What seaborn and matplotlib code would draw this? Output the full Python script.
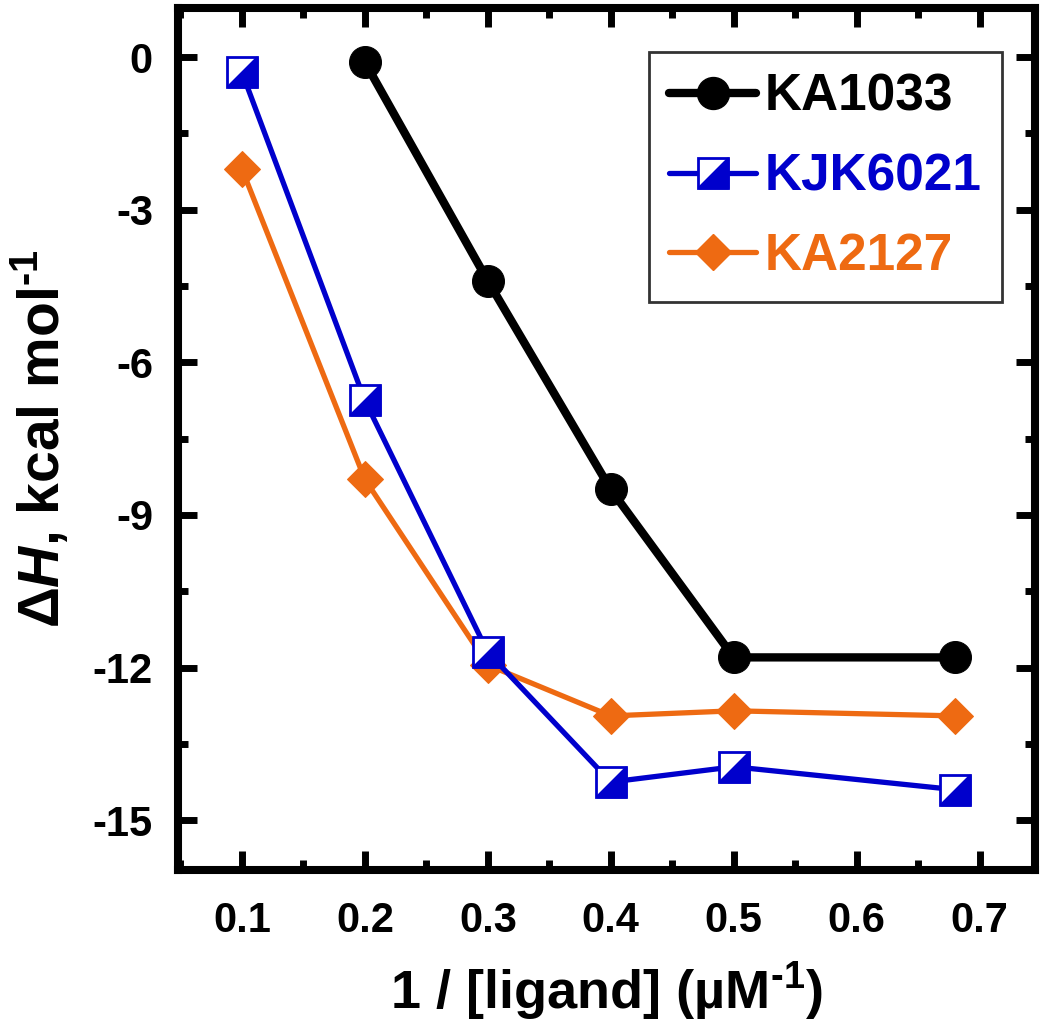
import numpy as np
import pandas as pd
import matplotlib
matplotlib.use("Agg")
import matplotlib.pyplot as plt
from matplotlib.lines import Line2D
from matplotlib.ticker import MultipleLocator
import seaborn as sns

# data
x_ka1033 = [0.2, 0.3, 0.4, 0.5, 0.68]
y_ka1033 = [-0.1, -4.4, -8.5, -11.8, -11.8]

x_kjk6021 = [0.1, 0.2, 0.3, 0.4, 0.5, 0.68]
y_kjk6021 = [-0.3, -6.75, -11.7, -14.25, -13.95, -14.4]

x_ka2127 = [0.1, 0.2, 0.3, 0.4, 0.5, 0.68]
y_ka2127 = [-2.2, -8.3, -11.95, -12.95, -12.85, -12.95]

labels = ["KA1033", "KJK6021", "KA2127"]
colors = ["black", "#0000CC", "#EE6A12"]

sns.set_style("white")
plt.rcParams["font.family"] = ["Liberation Sans", "DejaVu Sans"]
plt.rcParams["font.weight"] = "bold"
plt.rcParams["text.color"] = "black"
plt.rcParams["axes.labelcolor"] = "black"
plt.rcParams["axes.unicode_minus"] = False
plt.rcParams["mathtext.fontset"] = "custom"
plt.rcParams["mathtext.rm"] = "Liberation Sans:bold"
plt.rcParams["mathtext.bf"] = "Liberation Sans:bold"
plt.rcParams["mathtext.it"] = "Liberation Sans:bold:italic"

fig = plt.figure(figsize=(10.5, 10.26), dpi=100)
ax = fig.add_axes([0.1695, 0.152, 0.8162, 0.840])

df1 = pd.DataFrame({"x": x_ka1033, "y": y_ka1033})
df2 = pd.DataFrame({"x": x_kjk6021, "y": y_kjk6021})
df3 = pd.DataFrame({"x": x_ka2127, "y": y_ka2127})

# lower-right triangle, to half fill the square marker
tri = [(-1, -1), (1, -1), (1, 1), (-1, -1)]

sns.lineplot(data=df3, x="x", y="y", ax=ax, color=colors[2], lw=3.8,
             marker="D", ms=18, mec=colors[2], mfc=colors[2], legend=False)
sns.lineplot(data=df2, x="x", y="y", ax=ax, color=colors[1], lw=3.8,
             marker="s", ms=21, mec=colors[1], mfc="white", mew=2, legend=False)
sns.lineplot(data=df2, x="x", y="y", ax=ax, color=colors[1], lw=0,
             marker=tri, ms=21, mec=colors[1], mfc=colors[1], mew=2, legend=False)
sns.lineplot(data=df1, x="x", y="y", ax=ax, color=colors[0], lw=6,
             marker="o", ms=23, mec=colors[0], mfc=colors[0], legend=False)

ax.set_xlim(0.048, 0.745)
ax.set_ylim(-15.98, 0.96)
ax.xaxis.set_minor_locator(MultipleLocator(0.05))
ax.yaxis.set_minor_locator(MultipleLocator(1.5))
ax.set_xticks([0.1, 0.2, 0.3, 0.4, 0.5, 0.6, 0.7])
ax.set_xticklabels(["0.1", "0.2", "0.3", "0.4", "0.5", "0.6", "0.7"])
ax.set_yticks([0, -3, -6, -9, -12, -15])
ax.set_yticklabels(["0", "-3", "-6", "-9", "-12", "-15"])

for sp in ax.spines.values():
    sp.set_linewidth(5.8)
    sp.set_color("black")
ax.tick_params(which="both", direction="in", bottom=True, left=True,
               top=True, right=True, color="black", labelcolor="black")
ax.tick_params(which="major", length=14, width=5, labelsize=30, pad=18)
ax.tick_params(which="minor", length=7, width=5)
ax.tick_params(axis="x", which="major", pad=22)

ax.set_xlabel(r"1 / [ligand] (µM$^{\text{-1}}$)", fontsize=39,
              fontweight="bold", labelpad=14)
ax.set_ylabel(r"$\Delta\mathit{H}$, kcal mol$^{\text{-1}}$", fontsize=41,
              fontweight="bold", labelpad=16)

h1 = Line2D([], [], color=colors[0], lw=6, marker="o", ms=23)
h2a = Line2D([], [], color=colors[1], lw=3.8, marker="s", ms=21, mfc="white", mec=colors[1], mew=2)
h2b = Line2D([], [], color=colors[1], lw=0, marker=tri, ms=21, mfc=colors[1], mec=colors[1], mew=2)
h3 = Line2D([], [], color=colors[2], lw=3.8, marker="D", ms=18)
leg = ax.legend([h1, (h2a, h2b), h3], labels, loc="upper right",
                bbox_to_anchor=(0.961, 0.949), fontsize=37, frameon=True,
                fancybox=False, edgecolor="black", handlelength=1.7,
                handletextpad=0.15, borderpad=0.4, labelspacing=0.6,
                borderaxespad=0)
leg.get_frame().set_linewidth(2)
for txt, c in zip(leg.get_texts(), colors):
    txt.set_color(c)
    txt.set_fontweight("bold")

fig.savefig("out.png", dpi=100)
